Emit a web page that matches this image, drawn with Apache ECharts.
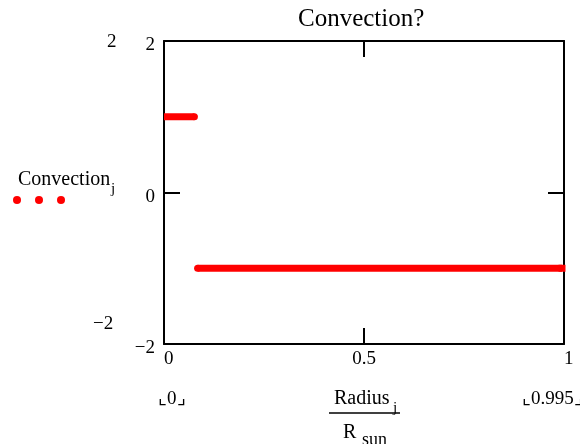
<!DOCTYPE html>
<html>
<head>
<meta charset="utf-8">
<script src="https://cdn.jsdelivr.net/npm/echarts@6/dist/echarts.min.js"></script>
<style>
	html, body { margin: 0; padding: 0; background: #fff; }
	#main { width: 580px; height: 444px; }
</style>
</head>
<body>
<div id="main"></div>
<script>
// radius / R_sun and the convection flag
var radiusCore = [0, 0.076];
var convectionCore = [1, 1];
var radiusEnvelope = [0.084, 0.995];
var convectionEnvelope = [-1, -1];
var xTicks = [0, 0.5, 1];
var yTicks = [-2, 0, 2];

var serif = 'Liberation Serif';
var red = '#ff0000';

// round end where the trace stops inside the frame, square where it meets the frame
function trace(xs, ys, ends) {
	return xs.map(function (x, i) {
		return { value: [x, ys[i]], symbol: ends[i] };
	});
}

var myChart = echarts.init(document.getElementById('main'));

var frameAxis = {
	type: 'value',
	axisLine: { show: true, onZero: false, lineStyle: { color: '#000', width: 2 } },
	axisTick: { show: true, inside: true, length: 16, lineStyle: { color: '#000', width: 2 } },
	splitLine: { show: false }
};

var traceStyle = {
	type: 'line',
	symbolSize: 7,
	showAllSymbol: true,
	itemStyle: { color: red },
	lineStyle: { color: red, width: 7, cap: 'butt' }
};

myChart.setOption({
	animation: false,
	grid: { left: 164, right: 16, top: 41, bottom: 100 },
	xAxis: [
		Object.assign({}, frameAxis, {
			position: 'bottom',
			min: xTicks[0], max: xTicks[2], interval: 0.5,
			axisLabel: {
				color: '#000', fontFamily: serif, fontSize: 19, margin: 6,
				alignMinLabel: 'left', alignMaxLabel: 'left',
				formatter: function (v) { return String(v); }
			}
		}),
		Object.assign({}, frameAxis, {
			position: 'top',
			min: xTicks[0], max: xTicks[2], interval: 0.5,
			axisLabel: { show: false }
		})
	],
	yAxis: [
		Object.assign({}, frameAxis, {
			position: 'left',
			min: yTicks[0], max: yTicks[2], interval: 2,
			axisLabel: {
				margin: 9,
				formatter: function (v) { return '{t|' + (v < 0 ? '\u2212' + Math.abs(v) : String(v)) + '}'; },
				rich: { t: { color: '#000', fontFamily: serif, fontSize: 19, padding: [9, 0, 0, 0] } }
			}
		}),
		Object.assign({}, frameAxis, {
			position: 'right',
			min: yTicks[0], max: yTicks[2], interval: 2,
			axisLabel: { show: false }
		})
	],
	series: [
		Object.assign({}, traceStyle, { data: trace(radiusCore, convectionCore, ['none', 'circle']) }),
		Object.assign({}, traceStyle, { data: trace(radiusEnvelope, convectionEnvelope, ['circle', 'rect']) })
	],
	graphic: [
		{ type: 'text', left: 298, top: 7, style: { text: 'Convection?', font: '25px "Liberation Serif"', fill: '#000' } },
		// outer range labels of the y axis
		{ type: 'text', left: 107, top: 33, style: { text: '2', font: '19px "Liberation Serif"', fill: '#000' } },
		{ type: 'text', left: 93, top: 315, style: { text: '\u22122', font: '19px "Liberation Serif"', fill: '#000' } },
		// y axis title and legend dots
		{ type: 'text', left: 18, top: 170, style: { text: 'Convection', font: '20px "Liberation Serif"', fill: '#000' } },
		{ type: 'text', left: 111, top: 182, style: { text: 'j', font: '15px "Liberation Serif"', fill: '#000' } },
		{ type: 'circle', shape: { cx: 17, cy: 200, r: 4 }, style: { fill: red } },
		{ type: 'circle', shape: { cx: 39, cy: 200, r: 4 }, style: { fill: red } },
		{ type: 'circle', shape: { cx: 61, cy: 200, r: 4 }, style: { fill: red } },
		// x range labels and x axis title
		{ type: 'text', left: 158, top: 390, style: { text: '\u231e0\u231f', font: '19px "Liberation Serif"', fill: '#000' } },
		{ type: 'text', left: 522, top: 390, style: { text: '\u231e0.995\u231f', font: '19px "Liberation Serif"', fill: '#000' } },
		{ type: 'text', left: 334, top: 389, style: { text: 'Radius', font: '20px "Liberation Serif"', fill: '#000' } },
		{ type: 'text', left: 393, top: 401, style: { text: 'j', font: '15px "Liberation Serif"', fill: '#000' } },
		{ type: 'line', shape: { x1: 329, y1: 413, x2: 400, y2: 413 }, style: { stroke: '#000', lineWidth: 1.5 } },
		{ type: 'text', left: 343, top: 423, style: { text: 'R', font: '20px "Liberation Serif"', fill: '#000' } },
		{ type: 'text', left: 362, top: 431, style: { text: 'sun', font: '18px "Liberation Serif"', fill: '#000' } }
	]
});
</script>
</body>
</html>
